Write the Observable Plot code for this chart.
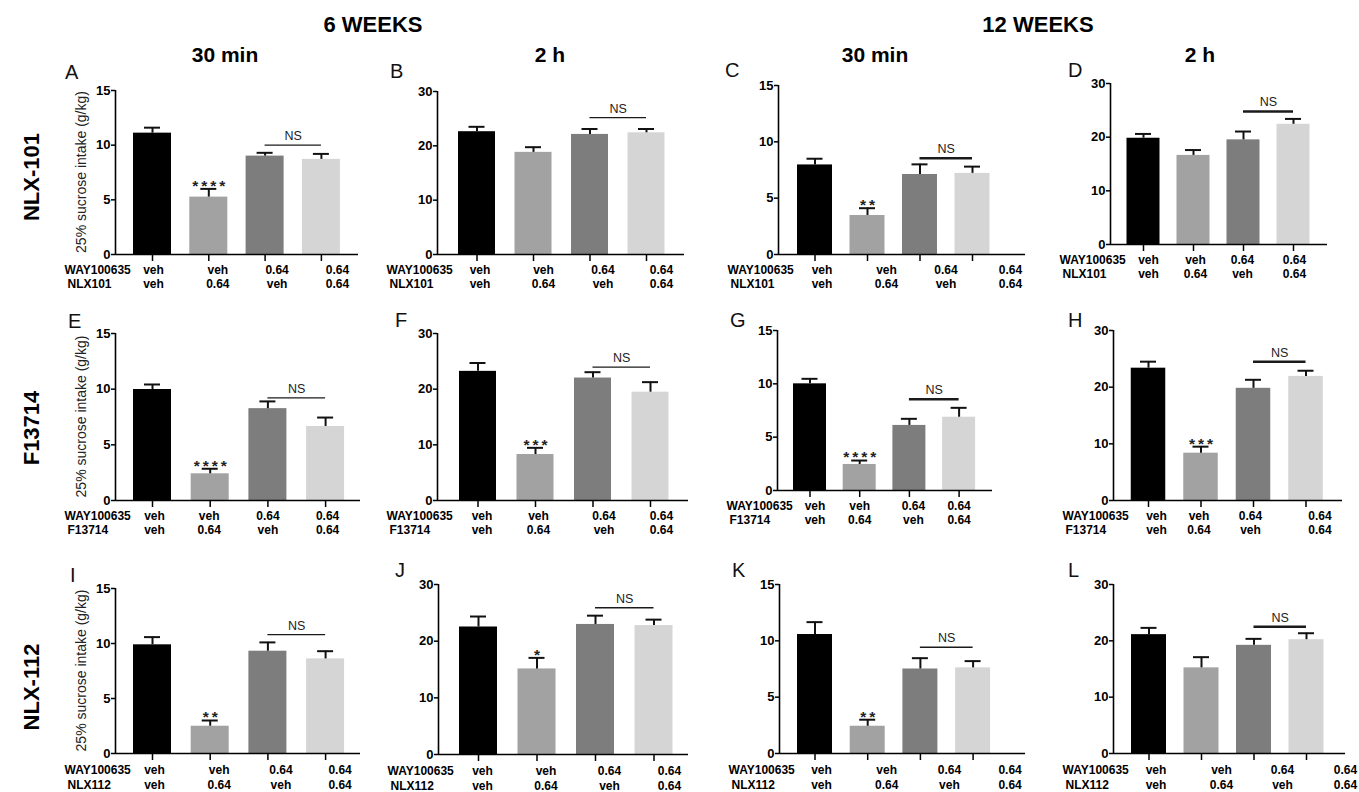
<!DOCTYPE html>
<html>
<head>
<meta charset="utf-8">
<script src="https://cdn.jsdelivr.net/npm/d3@7"></script>
<script src="https://cdn.jsdelivr.net/npm/@observablehq/plot@0.6"></script>
<style>
html,body{margin:0;padding:0;background:#fff;overflow:hidden;}
#root{position:relative;width:1359px;height:792px;font-family:"Liberation Sans",Arial,sans-serif;}
.panel{position:absolute;}
#overlay{position:absolute;left:0;top:0;pointer-events:none;}
</style>
</head>
<body>
<div id="root"></div>
<script>
// ---------------- DATA ----------------
const wayDose      = ["veh", "veh", "0.64", "0.64"];
const agonistDose  = ["veh", "0.64", "veh", "0.64"];
const compoundNames     = ["NLX-101", "F13714", "NLX-112"];
const compoundTickNames = ["NLX101", "F13714", "NLX112"];
const wayName = "WAY100635";
const weekTitles = ["6 WEEKS", "12 WEEKS"];
const timeTitles = ["30 min", "2 h", "30 min", "2 h"];
const panelLetters = ["A","B","C","D","E","F","G","H","I","J","K","L"];
const yLabel = "25% sucrose intake (g/kg)";
const yMax   = [15, 30, 15, 30, 15, 30, 15, 30, 15, 30, 15, 30];
const ticks15 = [0, 5, 10, 15];
const ticks30 = [0, 10, 20, 30];

// means (g/kg) per panel, groups: veh/veh, veh/0.64, 0.64/veh, 0.64/0.64
const meanA = [11.1, 5.25, 9.0, 8.7],    semA = [0.5, 0.75, 0.3, 0.5];
const meanB = [22.6, 18.8, 22.1, 22.4],  semB = [0.9, 0.95, 1.0, 0.7];
const meanC = [7.95, 3.46, 7.1, 7.2],    semC = [0.55, 0.65, 0.9, 0.6];
const meanD = [19.8, 16.6, 19.5, 22.4],  semD = [0.8, 1.0, 1.55, 1.0];
const meanE = [9.97, 2.4, 8.25, 6.65],   semE = [0.45, 0.45, 0.65, 0.8];
const meanF = [23.2, 8.26, 22.0, 19.46], semF = [1.5, 1.2, 1.05, 1.8];
const meanG = [10.0, 2.44, 6.1, 6.87],   semG = [0.47, 0.37, 0.62, 0.88];
const meanH = [23.35, 8.35, 19.8, 21.9], semH = [1.15, 1.15, 1.5, 1.0];
const meanI = [9.88, 2.48, 9.3, 8.6],    semI = [0.7, 0.52, 0.8, 0.7];
const meanJ = [22.5, 15.1, 22.95, 22.75],semJ = [1.85, 1.95, 1.55, 1.05];
const meanK = [10.56, 2.42, 7.5, 7.6],   semK = [1.1, 0.58, 0.96, 0.6];
const meanL = [21.1, 15.2, 19.2, 20.2],  semL = [1.2, 1.9, 1.15, 1.15];
const means = [meanA, meanB, meanC, meanD, meanE, meanF, meanG, meanH, meanI, meanJ, meanK, meanL];
const sems  = [semA, semB, semC, semD, semE, semF, semG, semH, semI, semJ, semK, semL];

const sigLabels = ["****", "", "**", "", "****", "***", "****", "***", "**", "*", "**", ""];
const nsLevel   = [10.0, 25.2, 8.55, 24.8, 9.22, 23.95, 8.56, 24.5, 10.8, 25.9, 9.43, 22.5];
const nsPair    = [2, 3];
const nsText    = "NS";

// ---------------- STYLE / LAYOUT ----------------
const barFills = ["#000000", "#a2a2a2", "#7d7d7d", "#d5d5d5"];
const layout = [
  {ax:115,  end:358,  top:90,  zero:254, c0:152,    sp:56.3, bw:38,   shift:[1,9,12,16],    nsW:1.3},
  {ax:437,  end:684,  top:91,  zero:254, c0:476.5,  sp:56.5, bw:37,   shift:[3,10,13,15],   nsW:1.3},
  {ax:778,  end:1025, top:85,  zero:254, c0:814.5,  sp:52.5, bw:35,   shift:[7,19,26,38],   nsW:2.5},
  {ax:1110, end:1327, top:83,  zero:244, c0:1143,   sp:50,   bw:33,   shift:[5,2,-1,1],     nsW:2.5},
  {ax:115,  end:360,  top:333, zero:500, c0:152,    sp:57.7, bw:38,   shift:[2,-1,0,2],     nsW:1.3},
  {ax:437,  end:688,  top:333, zero:500, c0:477.5,  sp:57.5, bw:37,   shift:[4,3,11,11],    nsW:1.3},
  {ax:777,  end:992,  top:330, zero:490, c0:809.5,  sp:49.7, bw:33,   shift:[5,0,4,0],      nsW:2.5},
  {ax:1113, end:1342, top:330, zero:500, c0:1148,   sp:52.5, bw:34.5, shift:[8,-2,-3,14],   nsW:2.5},
  {ax:115,  end:360,  top:588, zero:753, c0:152,    sp:57.7, bw:38,   shift:[2,9,13,14.5],  nsW:1.3},
  {ax:438,  end:688,  top:584, zero:754, c0:478,    sp:58.5, bw:38,   shift:[4,9,14,15.5],  nsW:1.3},
  {ax:779,  end:1025, top:584, zero:753, c0:814.5,  sp:52.7, bw:35,   shift:[6.5,19,29,37], nsW:1.3},
  {ax:1113, end:1345, top:584, zero:753, c0:1148.5, sp:52.5, bw:35,   shift:[7,20,28.5,39], nsW:2.5}
];
const FONT = "'Liberation Sans', Arial, sans-serif";

const root = document.getElementById("root");

function makePanel(idx) {
  const L = layout[idx];
  const row = Math.floor(idx / 4);
  const ymax = yMax[idx];
  const labDy = row === 2 ? [20, 35] : [19, 33];
  const data = wayDose.map((w, i) => ({
    i, way: w, ag: agonistDose[i], mean: means[idx][i], sem: sems[idx][i], fill: barFills[i]
  }));
  const mL = 60, mR = 12, mT = 12, mB = 45;
  const W = L.end - L.ax;
  const H = L.zero - L.top;
  const d0 = -(L.c0 - L.ax) / L.sp;
  const d1 = d0 + W / L.sp;
  const hw = L.bw / L.sp / 2;
  const cw = 8 / L.sp;
  const sig = sigLabels[idx];

  const marks = [
    Plot.rectY(data, {x1: d => d.i - hw, x2: d => d.i + hw, y1: 0, y2: "mean", fill: "fill"}),
    Plot.ruleX(data, {x: "i", y1: "mean", y2: d => d.mean + d.sem, stroke: "#111", strokeWidth: 2}),
    Plot.ruleY(data, {y: d => d.mean + d.sem, x1: d => d.i - cw, x2: d => d.i + cw, stroke: "#111", strokeWidth: 2}),
    Plot.axisY({ticks: ymax === 15 ? ticks15 : ticks30, tickSize: 4, tickPadding: 1, label: null, strokeWidth: 1.5, fontSize: 13}),
    Plot.axisX({ticks: data.map(d => d.i), tickSize: 7, tickFormat: () => "", label: null, strokeWidth: 1.5}),
    Plot.ruleX([d0], {stroke: "#000", strokeWidth: 1.6}),
    Plot.ruleY([0], {stroke: "#000", strokeWidth: 1.6}),
    Plot.ruleY([nsLevel[idx]], {y: d => d, x1: nsPair[0], x2: nsPair[1], stroke: "#1a1a1a", strokeWidth: L.nsW}),
    Plot.text([nsLevel[idx]], {y: d => d, x: (nsPair[0] + nsPair[1]) / 2, text: () => nsText, dy: -9, fontSize: 12.5, fontWeight: "normal", fill: "#222"}),
    Plot.text([wayName], {text: d => d, frameAnchor: "bottom-left", dx: -51, dy: labDy[0], textAnchor: "start", fontSize: 12}),
    Plot.text([compoundTickNames[row]], {text: d => d, frameAnchor: "bottom-left", dx: -48, dy: labDy[1], textAnchor: "start", fontSize: 12})
  ];
  data.forEach((d, k) => {
    marks.push(Plot.text([d], {x: "i", text: "way", frameAnchor: "bottom", dy: labDy[0], dx: L.shift[k], fontSize: 12}));
    marks.push(Plot.text([d], {x: "i", text: "ag", frameAnchor: "bottom", dy: labDy[1], dx: L.shift[k], fontSize: 12}));
  });
  if (sig) {
    marks.push(Plot.text([data[1]], {x: "i", y: d => d.mean + d.sem, text: () => sig, dy: -3, dx: 1.5, fontSize: 15.5, fill: "#222", ariaDescription: "sig"}));
  }

  const svg = Plot.plot({
    width: W + mL + mR,
    height: H + mT + mB,
    marginLeft: mL, marginRight: mR, marginTop: mT, marginBottom: mB,
    style: {fontFamily: FONT, fontSize: "12px", fontWeight: "bold", color: "#000", background: "transparent", overflow: "visible"},
    x: {domain: [d0, d1]},
    y: {domain: [0, ymax]},
    color: {type: "identity"},
    marks
  });
  d3.select(svg).selectAll('g[aria-description="sig"] text').attr("letter-spacing", 3);
  const div = document.createElement("div");
  div.className = "panel";
  div.style.left = (L.ax - mL) + "px";
  div.style.top = (L.top - mT) + "px";
  div.style.width = (W + mL + mR) + "px";
  div.appendChild(svg);
  root.appendChild(div);
}

for (let i = 0; i < 12; i++) makePanel(i);

// ---------------- OVERLAY TEXT ----------------
const ov = d3.select(root).append("svg").attr("id", "overlay")
  .attr("width", 1359).attr("height", 792)
  .style("font-family", FONT);

const weekPos = [[373, 32], [1038, 32]];
weekTitles.forEach((t, i) => ov.append("text").attr("x", weekPos[i][0]).attr("y", weekPos[i][1])
  .attr("text-anchor", "middle").attr("font-size", 22).attr("font-weight", "bold").text(t));

const timePos = [[225, 62], [550, 62], [875, 62], [1200, 62]];
timeTitles.forEach((t, i) => ov.append("text").attr("x", timePos[i][0]).attr("y", timePos[i][1])
  .attr("text-anchor", "middle").attr("font-size", 21).attr("font-weight", "bold").text(t));

const letterPos = [[65,79],[390,78],[725,77],[1068,77],[68,328],[395,327],[730,327],[1068,327],[70,582],[395,577],[732,577],[1068,577]];
panelLetters.forEach((t, i) => ov.append("text").attr("x", letterPos[i][0]).attr("y", letterPos[i][1])
  .attr("font-size", 20).attr("fill", "#111").text(t));

const rowLabelPos = [[39, 177], [39, 428], [39, 687]];
compoundNames.forEach((t, i) => ov.append("text")
  .attr("transform", `translate(${rowLabelPos[i][0]},${rowLabelPos[i][1]}) rotate(-90)`)
  .attr("text-anchor", "middle").attr("font-size", 22).attr("font-weight", "bold").text(t));

const yLabelPos = [[86, 172], [86, 416.5], [86, 670.5]];
yLabelPos.forEach(p => ov.append("text")
  .attr("transform", `translate(${p[0]},${p[1]}) rotate(-90)`)
  .attr("text-anchor", "middle").attr("font-size", 14).attr("fill", "#222").text(yLabel));
</script>
</body>
</html>
